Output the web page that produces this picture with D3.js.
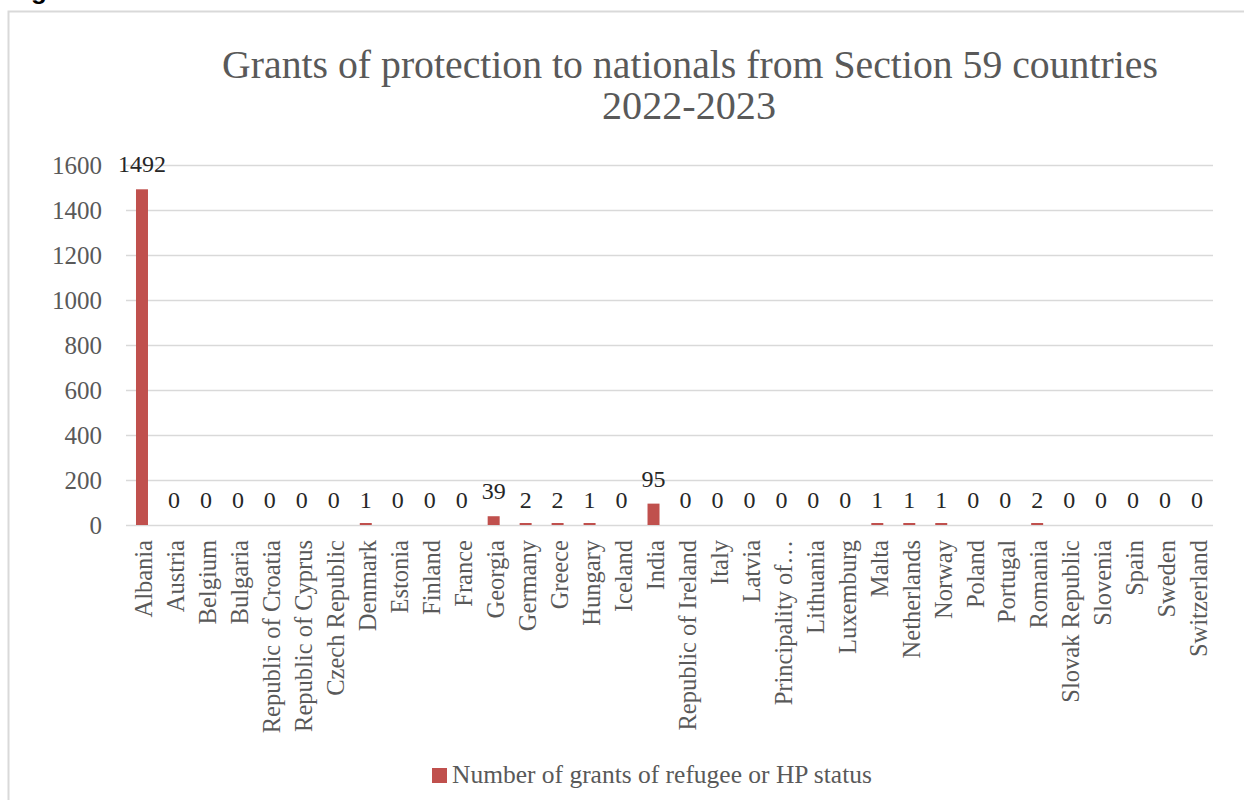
<!DOCTYPE html>
<html>
<head>
<meta charset="utf-8">
<script src="https://cdn.jsdelivr.net/npm/d3@7"></script>
<style>
  html, body { margin: 0; padding: 0; background: #fff; }
  svg { display: block; }
</style>
</head>
<body>
<svg id="chart" width="1244" height="800"></svg>
<script>
const categories = ["Albania","Austria","Belgium","Bulgaria","Republic of Croatia","Republic of Cyprus","Czech Republic","Denmark","Estonia","Finland","France","Georgia","Germany","Greece","Hungary","Iceland","India","Republic of Ireland","Italy","Latvia","Principality of…","Lithuania","Luxemburg","Malta","Netherlands","Norway","Poland","Portugal","Romania","Slovak Republic","Slovenia","Spain","Sweden","Switzerland"];
const grants = [1492,0,0,0,0,0,0,1,0,0,0,39,2,2,1,0,95,0,0,0,0,0,0,1,1,1,0,0,2,0,0,0,0,0];
const yTicks = [0,200,400,600,800,1000,1200,1400,1600];
const titleLines = ["Grants of protection to nationals from Section 59 countries","2022-2023"];
const seriesName = "Number of grants of refugee or HP status";

(function() {
const FONT = "'Liberation Serif', 'Times New Roman', serif";
const svg = d3.select("#chart");

// clipped heading above the frame
svg.append("text").attr("x", 31).attr("y", -1)
  .attr("font-family", "'Liberation Sans', Arial, sans-serif").attr("font-weight", "bold")
  .attr("font-size", 26).attr("fill", "#000").text("g");

// chart frame
svg.append("rect").attr("x", 8.5).attr("y", 11.5).attr("width", 1260).attr("height", 820)
  .attr("fill", "#fff").attr("stroke", "#d9d9d9").attr("stroke-width", 2);

const pLeft = 126, pRight = 1213, pTop = 165, pBottom = 525;

const x = d3.scaleBand().domain(categories).range([pLeft, pRight]).paddingInner(0.625).paddingOuter(0.3125);
const y = d3.scaleLinear().domain([0, 1600]).range([pBottom, pTop]);

function fit(sel, width) {
  sel.each(function() {
    const t = d3.select(this);
    const fs = +t.attr("font-size");
    const w = this.getComputedTextLength();
    t.attr("font-size", fs * width / w);
  });
}

// title
const title = svg.append("g");
const t1 = title.append("text").attr("x", 690).attr("y", 78).attr("text-anchor", "middle")
  .attr("font-family", FONT).attr("font-size", 37).attr("fill", "#595959").text(titleLines[0]);
fit(t1, 936);
const t2 = title.append("text").attr("x", 689).attr("y", 119).attr("text-anchor", "middle")
  .attr("font-family", FONT).attr("font-size", 37).attr("fill", "#595959").text(titleLines[1]);
fit(t2, 174);

// gridlines
const yAxis = d3.axisLeft(y).tickValues(yTicks).tickSize(-(pRight - pLeft)).tickPadding(24).tickFormat(d3.format("d"));
const gy = svg.append("g").attr("transform", `translate(${pLeft},0)`).call(yAxis);
gy.select(".domain").remove();
gy.selectAll(".tick line").attr("stroke", "#d9d9d9").attr("stroke-width", 1.6);
gy.selectAll(".tick text").attr("font-family", FONT).attr("font-size", 25).attr("fill", "#595959").attr("dy", "0.34em");

// bars
svg.append("g").selectAll("rect").data(grants).join("rect")
  .attr("x", (d, i) => x(categories[i]))
  .attr("width", x.bandwidth())
  .attr("y", d => d > 0 ? Math.min(y(d), pBottom - 2) : pBottom)
  .attr("height", d => d > 0 ? Math.max(pBottom - y(d), 2) : 0)
  .attr("fill", "#c0504d");

// data labels
svg.append("g").selectAll("text").data(grants).join("text")
  .attr("x", (d, i) => x(categories[i]) + x.bandwidth() / 2)
  .attr("y", d => y(d) - 17)
  .attr("text-anchor", "middle")
  .attr("font-family", FONT).attr("font-size", 24).attr("fill", "#262626")
  .text(d => d);

// x axis labels
const xAxis = d3.axisBottom(x).tickSize(0).tickPadding(0);
const gx = svg.append("g").attr("transform", `translate(0,${pBottom})`).call(xAxis);
gx.select(".domain").remove();
gx.selectAll(".tick text")
  .attr("font-family", FONT).attr("font-size", 24.5).attr("fill", "#595959")
  .attr("text-anchor", "end")
  .attr("transform", "rotate(-90)")
  .attr("x", -15).attr("y", 0).attr("dy", "0.42em");

// legend
const lg = svg.append("g");
lg.append("rect").attr("x", 432).attr("y", 768).attr("width", 15).attr("height", 15).attr("fill", "#c0504d");
const lt = lg.append("text").attr("x", 452).attr("y", 783).attr("font-family", FONT)
  .attr("font-size", 25).attr("fill", "#595959").text(seriesName);
fit(lt, 420);
})();
</script>
</body>
</html>
